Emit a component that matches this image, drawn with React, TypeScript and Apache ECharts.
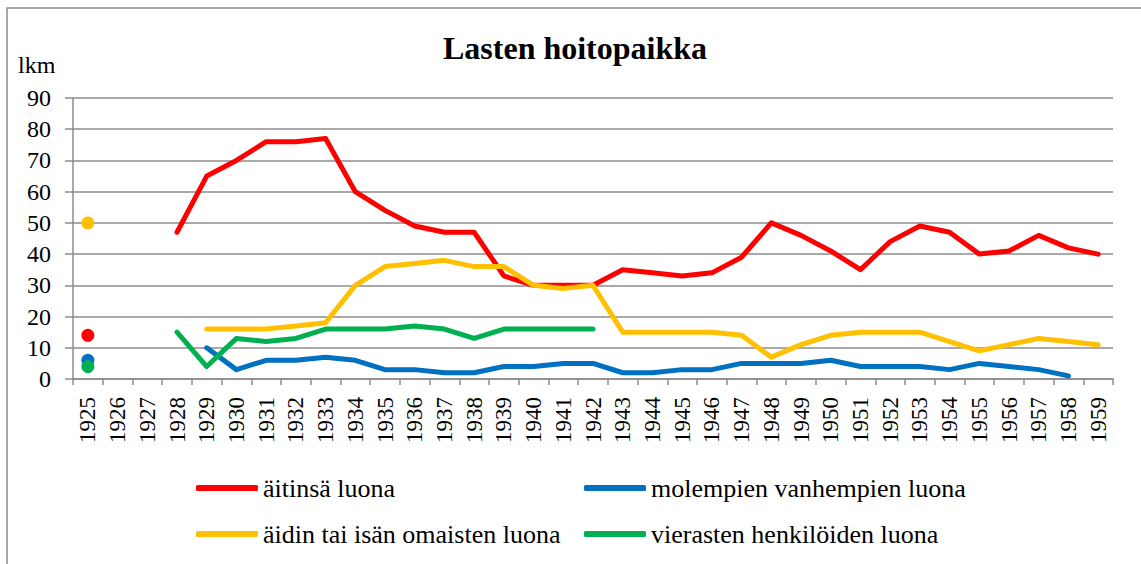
import React, { useEffect, useRef } from "react";
import * as echarts from "echarts";

const years = [
  "1925","1926","1927","1928","1929","1930","1931","1932","1933","1934",
  "1935","1936","1937","1938","1939","1940","1941","1942","1943","1944",
  "1945","1946","1947","1948","1949","1950","1951","1952","1953","1954",
  "1955","1956","1957","1958","1959",
];

const aitinsa = [14,null,null,47,65,70,76,76,77,60,54,49,47,47,33,30,30,30,35,34,33,34,39,50,46,41,35,44,49,47,40,41,46,42,40];
const molempien = [6,null,null,null,10,3,6,6,7,6,3,3,2,2,4,4,5,5,2,2,3,3,5,5,5,6,4,4,4,3,5,4,3,1,null];
const omaisten = [50,null,null,null,16,16,16,17,18,30,36,37,38,36,36,30,29,30,15,15,15,15,14,7,11,14,15,15,15,12,9,11,13,12,11];
const vierasten = [4,null,null,15,4,13,12,13,16,16,16,17,16,13,16,16,16,16,null,null,null,null,null,null,null,null,null,null,null,null,null,null,null,null,null];

const seriesNames = [
  "äitinsä luona",
  "molempien vanhempien luona",
  "äidin tai isän omaisten luona",
  "vierasten henkilöiden luona",
];
const colors = ["#FF0000", "#0070C0", "#FFC000", "#00B050"];
const yTicks = [0, 10, 20, 30, 40, 50, 60, 70, 80, 90];

const FONT = "Times New Roman";

function withDot(arr: (number | null)[]) {
  return arr.map((v, i) =>
    i === 0 && v !== null ? { value: v, symbol: "circle", symbolSize: 13 } : v
  );
}

export default function App() {
  const ref = useRef<HTMLDivElement>(null);
  useEffect(() => {
    const chart = echarts.init(ref.current!, null, { renderer: "svg" });
    const datasets = [aitinsa, molempien, omaisten, vierasten];
    const legendPos = [
      { left: 191, top: 470 },
      { left: 579, top: 470 },
      { left: 191, top: 516 },
      { left: 579, top: 516 },
    ];
    chart.setOption({
      animation: false,
      backgroundColor: "#ffffff",
      textStyle: { fontFamily: FONT },
      grid: { left: 73, right: 28, top: 98, bottom: 185 },
      legend: seriesNames.map((n, i) => ({
        data: [n],
        left: legendPos[i].left,
        top: legendPos[i].top,
        icon: "roundRect",
        itemWidth: 62,
        itemHeight: 6,
        itemGap: 0,
        selectedMode: false,
        textStyle: {
          fontFamily: FONT,
          fontSize: 26,
          color: "#000",
        },
      })),
      graphic: [
        {
          type: "rect",
          shape: { x: 7, y: 8, width: 1200, height: 600 },
          style: { fill: "none", stroke: "#8c8c8c", lineWidth: 1.5 },
          silent: true,
        },
        {
          type: "text",
          x: 575,
          y: 48,
          style: {
            text: "Lasten hoitopaikka",
            fontFamily: FONT,
            fontSize: 32,
            fontWeight: "bold",
            fill: "#000",
            align: "center",
            verticalAlign: "middle",
          },
        },
        {
          type: "text",
          x: 18,
          y: 65,
          style: {
            text: "lkm",
            fontFamily: FONT,
            fontSize: 24,
            fill: "#000",
            align: "left",
            verticalAlign: "middle",
          },
        },
      ],
      xAxis: {
        type: "category",
        data: years,
        boundaryGap: true,
        axisLine: { show: true, lineStyle: { color: "#8c8c8c", width: 1.5 } },
        axisTick: { show: true, length: 6, interval: 0, lineStyle: { color: "#8c8c8c", width: 1.5 } },
        axisLabel: {
          interval: 0,
          rotate: 90,
          margin: 18,
          fontFamily: FONT,
          fontSize: 23,
          color: "#000",
        },
        splitLine: { show: false },
      },
      yAxis: {
        type: "value",
        min: 0,
        max: 90,
        interval: 10,
        axisLine: { show: true, lineStyle: { color: "#8c8c8c", width: 1.5 } },
        axisTick: { show: true, length: 8, inside: false, lineStyle: { color: "#8c8c8c", width: 1.5 } },
        axisLabel: {
          margin: 22,
          fontFamily: FONT,
          fontSize: 24,
          color: "#000",
          formatter: (v: number) => (yTicks.includes(v) ? String(v) : ""),
        },
        splitLine: { show: true, lineStyle: { color: "#8c8c8c", width: 1.5 } },
      },
      series: datasets.map((d, i) => ({
        name: seriesNames[i],
        type: "line",
        data: withDot(d),
        symbol: "none",
        showSymbol: true,
        connectNulls: false,
        color: colors[i],
        itemStyle: { color: colors[i] },
        lineStyle: { color: colors[i], width: 5, cap: "round", join: "round" },
        z: 2 + i,
      })),
    });
    return () => chart.dispose();
  }, []);
  return (
    <div
      ref={ref}
      style={{ position: "absolute", left: 0, top: 0, width: 1141, height: 564 }}
    />
  );
}
